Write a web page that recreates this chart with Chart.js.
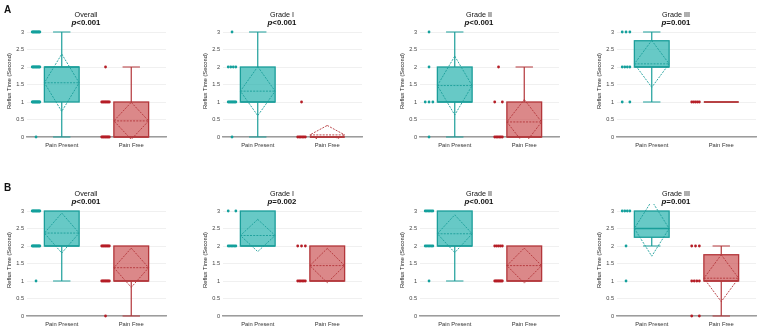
<!DOCTYPE html>
<html>
<head>
<meta charset="utf-8">
<script src="https://cdn.jsdelivr.net/npm/chart.js@4.4.1/dist/chart.umd.min.js"></script>
<style>
  html, body { margin: 0; padding: 0; background: #fff; overflow: hidden; }
  #fig { position: relative; width: 762px; height: 331px; font-family: "Liberation Sans", Arial, sans-serif; }
  #fig canvas { position: absolute; z-index: 1; }
  .ttl { position: absolute; z-index: 2; will-change: transform; width: 172px; text-align: center; color: #111; line-height: 8px; }
  .ttl .t1 { font-size: 7.2px; }
  .ttl .t2 { font-size: 7.8px; font-weight: bold; }
  .lab { position: absolute; z-index: 2; font-size: 10px; font-weight: bold; color: #111; }
</style>
</head>
<body>
<div id="fig">
  <div class="lab" style="left:4px;top:4px;">A</div>
  <div class="lab" style="left:4px;top:182px;">B</div>
</div>
<script>
// panels: A Overall, A Grade I, A Grade II, A Grade III, B Overall, B Grade I, B Grade II, B Grade III
const panelTitles = ["Overall", "Grade I", "Grade II", "Grade III", "Overall", "Grade I", "Grade II", "Grade III"];
const pLabels = ["<0.001", "<0.001", "<0.001", "=0.001", "<0.001", "=0.002", "<0.001", "=0.001"];
const categories = ["Pain Present", "Pain Free"];
const yTicks = [0, 0.5, 1, 1.5, 2, 2.5, 3];

// [Pain Present, Pain Free] for each panel
const boxQ1 = [[1, 0], [1, 0], [1, 0], [2, 1], [2, 1], [2, 1], [2, 1], [2.25, 1]];
const boxMedian = [[2, 0], [1, 0], [1, 0], [2, 1], [2, 1], [2, 1], [2, 1], [2.5, 1]];
const boxQ3 = [[2, 1], [2, 0], [2, 1], [2.75, 1], [3, 2], [3, 2], [3, 2], [3, 1.75]];
const whiskerLow = [[0, 0], [0, 0], [0, 0], [1, 1], [1, 0], [2, 1], [1, 1], [2, 0]];
const whiskerHigh = [[3, 2], [3, 0], [3, 2], [3, 1], [3, 2], [3, 2], [3, 2], [3, 2]];
const means = [[1.55, 0.46], [1.31, 0.06], [1.47, 0.43], [2.09, 1], [2.37, 1.38], [2.3, 1.44], [2.35, 1.44], [2.5, 1.08]];
const sds = [[0.82, 0.53], [0.7, 0.27], [0.84, 0.64], [0.67, 0], [0.57, 0.56], [0.46, 0.49], [0.54, 0.5], [0.79, 0.67]];

// raw observations: [value, count]
const pointsPresent = [
  [[3, 10], [2, 10], [1, 12], [0, 1]],
  [[3, 1], [2, 4], [1, 8], [0, 1]],
  [[3, 1], [2, 1], [1, 3], [0, 1]],
  [[3, 3], [2, 4], [1, 2]],
  [[3, 10], [2, 10], [1, 1]],
  [[3, 2], [2, 6]],
  [[3, 6], [2, 6], [1, 1]],
  [[3, 4], [2, 1], [1, 1]]
];
const pointsFree = [
  [[2, 1], [1, 8], [0, 8]],
  [[1, 1], [0, 6]],
  [[2, 1], [1, 2], [0, 6]],
  [[1, 5]],
  [[2, 8], [1, 8], [0, 1]],
  [[2, 3], [1, 6]],
  [[2, 5], [1, 8]],
  [[2, 3], [1, 4], [0, 2]]
];

const colors = [
  { fill: "rgba(45,180,176,0.72)", line: "#1b9e9a", dot: "#14a09c" },
  { fill: "rgba(205,90,92,0.72)", line: "#b3363a", dot: "#b51d26" }
];

const colLeft = [0, 196, 393, 590];
const rowTop = [0, 180];
const CW = 172, CH = 155;

function rowPoints(rows, center) {
  const out = [];
  rows.forEach(([v, n]) => {
    const span = n > 1 ? 0.11 : 0;
    for (let i = 0; i < n; i++) {
      const f = n > 1 ? i / (n - 1) - 0.5 : 0;
      out.push({ x: center - 0.37 + f * span, y: v });
    }
  });
  return out;
}

const boxPlugin = {
  id: "boxDiamond",
  beforeDatasetsDraw(chart, args, opts) {
    const p = opts.panel;
    const { ctx, chartArea: a } = chart;
    const xs = chart.scales.x, ys = chart.scales.y;
    ctx.save();
    ctx.beginPath();
    ctx.rect(a.left, a.top, a.right - a.left, a.bottom - a.top + 2);
    ctx.clip();
    for (let g = 0; g < 2; g++) {
      const c = colors[g];
      const cx = xs.getPixelForValue(g);
      const l = xs.getPixelForValue(g - 0.25), r = xs.getPixelForValue(g + 0.25);
      const cl = xs.getPixelForValue(g - 0.125), cr = xs.getPixelForValue(g + 0.125);
      const q1 = ys.getPixelForValue(boxQ1[p][g]);
      const q3 = ys.getPixelForValue(boxQ3[p][g]);
      const wl = ys.getPixelForValue(whiskerLow[p][g]);
      const wh = ys.getPixelForValue(whiskerHigh[p][g]);
      ctx.strokeStyle = c.line;
      ctx.lineWidth = 1.2;
      ctx.setLineDash([]);
      // whiskers
      if (whiskerLow[p][g] < boxQ1[p][g]) {
        ctx.beginPath();
        ctx.moveTo(cx, q1); ctx.lineTo(cx, wl);
        ctx.moveTo(cl, wl); ctx.lineTo(cr, wl);
        ctx.stroke();
      }
      if (whiskerHigh[p][g] > boxQ3[p][g]) {
        ctx.beginPath();
        ctx.moveTo(cx, q3); ctx.lineTo(cx, wh);
        ctx.moveTo(cl, wh); ctx.lineTo(cr, wh);
        ctx.stroke();
      }
      // box
      ctx.fillStyle = c.fill;
      ctx.fillRect(l, q3, r - l, q1 - q3);
      ctx.lineWidth = 1.3;
      ctx.strokeRect(l, q3, r - l, q1 - q3);
      // median
      const md = ys.getPixelForValue(boxMedian[p][g]);
      ctx.lineWidth = 1.5;
      ctx.beginPath(); ctx.moveTo(l, md); ctx.lineTo(r, md); ctx.stroke();
      // mean and sd diamond
      const m = means[p][g], s = sds[p][g];
      if (s > 0) {
        const mp = ys.getPixelForValue(m);
        const top = ys.getPixelForValue(m + s), bot = ys.getPixelForValue(m - s);
        ctx.lineWidth = 0.9;
        ctx.setLineDash([2, 1.2]);
        ctx.beginPath(); ctx.moveTo(l, mp); ctx.lineTo(r, mp); ctx.stroke();
        ctx.beginPath();
        ctx.moveTo(cx, top); ctx.lineTo(r, mp); ctx.lineTo(cx, bot); ctx.lineTo(l, mp); ctx.closePath();
        ctx.stroke();
      }
    }
    ctx.restore();
  }
};

const fig = document.getElementById("fig");

panelTitles.forEach((title, p) => {
  const col = p % 4, row = Math.floor(p / 4);
  const left = colLeft[col], top = rowTop[row];

  const cv = document.createElement("canvas");
  cv.width = CW; cv.height = CH;
  cv.style.left = left + "px"; cv.style.top = top + "px";
  cv.style.width = CW + "px"; cv.style.height = CH + "px";
  fig.appendChild(cv);

  const t = document.createElement("div");
  t.className = "ttl";
  t.style.left = left + "px";
  t.style.top = (row === 0 ? 11 : 190) + "px";
  t.innerHTML = '<div class="t1">' + title + '</div><div class="t2"><i>p</i>' + pLabels[p].replace("<", "&lt;") + '</div>';
  fig.appendChild(t);

  new Chart(cv, {
    type: "scatter",
    data: {
      datasets: [0, 1].map(g => ({
        data: rowPoints(g === 0 ? pointsPresent[p] : pointsFree[p], g),
        backgroundColor: colors[g].dot,
        borderColor: colors[g].dot,
        pointRadius: 1.4,
        pointBorderWidth: 0,
        clip: false
      }))
    },
    plugins: [boxPlugin],
    options: {
      responsive: false,
      animation: false,
      devicePixelRatio: 1,
      layout: { padding: { left: 0, right: 6, top: row === 0 ? 25 : 24, bottom: row === 0 ? 2 : 3 } },
      plugins: {
        legend: { display: false },
        tooltip: { enabled: false },
        boxDiamond: { panel: p }
      },
      scales: {
        x: {
          type: "linear",
          min: -0.5, max: 1.5,
          afterBuildTicks: s => { s.ticks = [{ value: 0 }, { value: 1 }]; },
          afterFit: s => { s.height = 16; },
          grid: { display: false, drawTicks: false },
          border: { display: true, color: "#9c9c9c", width: 1.6 },
          ticks: {
            padding: 5,
            color: "#333",
            font: { size: 5.8, family: "Liberation Sans" },
            callback: v => categories[v]
          }
        },
        y: {
          min: 0, max: 3.2,
          afterBuildTicks: s => { s.ticks = yTicks.map(v => ({ value: v })); },
          afterFit: s => { s.width = 27; },
          grid: { color: "#ececec", lineWidth: 0.8, drawTicks: false },
          border: { display: false },
          ticks: {
            padding: 3,
            color: "#444",
            font: { size: 5.6, family: "Liberation Sans" },
            callback: v => String(v)
          },
          title: {
            display: true,
            text: "Reflux Time (Second)",
            color: "#222",
            font: { size: 5.8, family: "Liberation Sans" },
            padding: { top: 6, bottom: 0 }
          }
        }
      }
    }
  });
});
</script>
</body>
</html>
